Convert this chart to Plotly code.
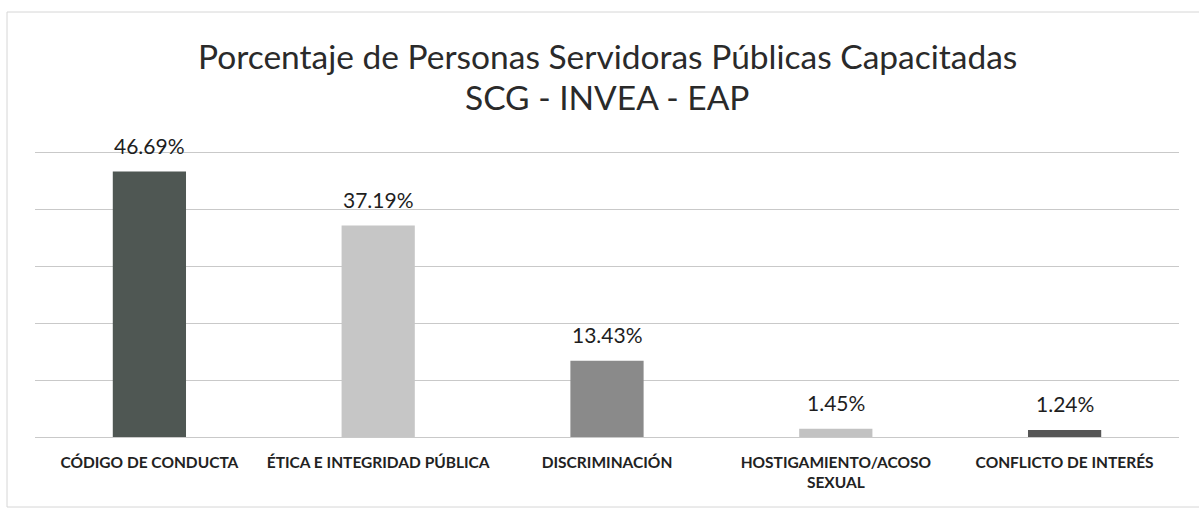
import plotly.graph_objects as go

categories = ["CÓDIGO DE CONDUCTA", "ÉTICA E INTEGRIDAD PÚBLICA", "DISCRIMINACIÓN",
              "HOSTIGAMIENTO/ACOSO<br>SEXUAL", "CONFLICTO DE INTERÉS"]
values = [46.69, 37.19, 13.43, 1.45, 1.24]
labels = ["46.69%", "37.19%", "13.43%", "1.45%", "1.24%"]
colors = ["#4f5753", "#c6c6c6", "#8a8a8a", "#c2c2c2", "#555555"]
title_line1 = "Porcentaje de Personas Servidoras Públicas Capacitadas"
title_line2 = "SCG - INVEA - EAP"

W, H = 1199, 515
TOP, BOT = 147, 78          # plot area: 0 at y=437, 50 at y=153
fig = go.Figure()
fig.add_trace(go.Bar(
    x=categories, y=values, marker=dict(color=colors, line=dict(width=0)),
    width=0.32, hoverinfo="skip",
))
for c, v, t in zip(categories, values, labels):
    fig.add_annotation(x=c, y=v, text=t, showarrow=False, yanchor="bottom",
                       yshift=12, font=dict(family="Lato", size=21, color="#1e1e1e"))

fig.add_annotation(xref="paper", yref="paper", x=0.5, y=1, text=title_line1,
                   showarrow=False, yanchor="middle", xanchor="center",
                   yshift=(TOP - 56), font=dict(family="Lato", size=33.5, color="#2a2a2a"))
fig.add_annotation(xref="paper", yref="paper", x=0.5, y=1, text=title_line2,
                   showarrow=False, yanchor="middle", xanchor="center",
                   yshift=(TOP - 97), font=dict(family="Lato", size=33.5, color="#2a2a2a"))

ph = H - TOP - BOT
# outer chart border (faint)
fig.add_shape(type="rect", xref="paper", yref="paper",
              x0=-28 / 1144, x1=1.03, y0=-(507 - 437) / ph, y1=1 + (TOP - 12) / ph,
              line=dict(color="#d6d6d6", width=1), fillcolor="rgba(0,0,0,0)")

fig.update_layout(
    width=W, height=H,
    margin=dict(l=35, r=20, t=TOP, b=BOT, autoexpand=False),
    paper_bgcolor="white", plot_bgcolor="white",
    showlegend=False, bargap=0.68,
    xaxis=dict(showgrid=False, showline=False, zeroline=False, ticks="",
               ticklabelstandoff=14, automargin=False,
               tickfont=dict(family="Lato", size=15.5, color="#222222", weight="bold")),
    yaxis=dict(range=[0, 51], tickvals=[0, 10, 20, 30, 40, 50], showgrid=True,
               gridcolor="#c9c9c9", gridwidth=1,
               showticklabels=False, zeroline=True, zerolinecolor="#c9c9c9",
               zerolinewidth=1, showline=False, ticks="", automargin=False),
)
fig.write_html("out.html", config={"displayModeBar": False},
               post_script="document.body.style.margin='0';document.body.style.padding='0';")
